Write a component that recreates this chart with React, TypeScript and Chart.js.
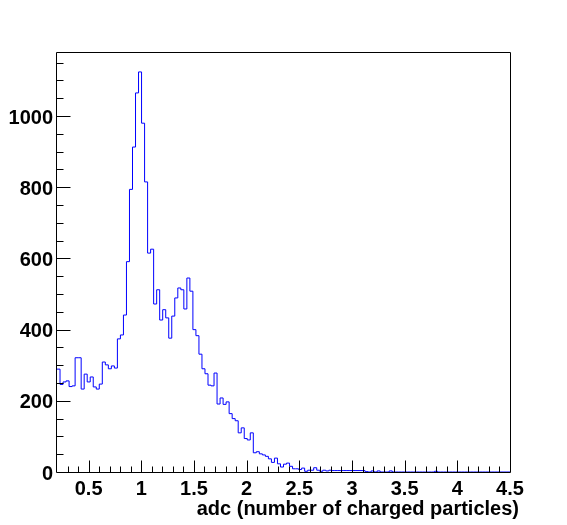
import { useEffect, useRef } from "react";
import { Chart, registerables } from "chart.js";

Chart.register(...registerables);

// ---- data ----
const X_MIN = 0.2;
const X_MAX = 4.5;
const Y_MAX = 1180;

// bin contents (150 uniform bins between X_MIN and X_MAX)
const counts0 = [289, 246, 253, 256, 240, 242, 321, 321, 233, 275, 253, 267, 239, 233, 247, 309, 301, 290, 298, 292];
const counts1 = [374, 385, 441, 591, 794, 913, 1065, 1124, 980, 815, 615, 626, 472, 512, 427, 456, 433, 376, 438, 489];
const counts2 = [517, 512, 458, 545, 508, 400, 383, 331, 290, 276, 244, 242, 278, 191, 208, 190, 197, 164, 150, 144];
const counts3 = [110, 124, 94, 90, 110, 54, 57, 51, 48, 44, 37, 27, 39, 23, 14, 22, 25, 16, 9, 9];
const counts4 = [7, 11, 2, 5, 5, 12, 5, 2, 5, 3, 5, 4, 4, 4, 4, 4, 4, 4, 4, 4];
const counts5 = [4, 4, 1, 0, 3, 0, 3, 0, 0, 0, 3, 0, 0, 0, 0, 0, 0, 0, 0, 0];
const counts6 = [0, 0, 0, 0, 0, 2, 0, 0, 0, 0, 0, 0, 0, 0, 0, 0, 0, 0, 0, 0];
const counts7 = [0, 0, 0, 0, 0, 0, 0, 0, 0, 0];
const counts = [...counts0, ...counts1, ...counts2, ...counts3, ...counts4, ...counts5, ...counts6, ...counts7];

const xTickValues = [0.5, 1, 1.5, 2, 2.5, 3, 3.5, 4, 4.5];
const xTickLabels = ["0.5", "1", "1.5", "2", "2.5", "3", "3.5", "4", "4.5"];
const yTickValues = [0, 200, 400, 600, 800, 1000];
const yTickLabels = ["0", "200", "400", "600", "800", "1000"];
const xMinorStep = 0.1;
const yMinorStep = 50;
const X_TITLE = "adc (number of charged particles)";

const FONT = "'Liberation Sans', Arial, Helvetica, sans-serif";

const rootAxes = {
  id: "rootAxes",
  afterDatasetsDraw(chart: any) {
    const { ctx, chartArea, scales } = chart;
    const { left, right, top, bottom } = chartArea;
    const xs = scales.x;
    const ys = scales.y;
    ctx.save();
    ctx.strokeStyle = "#000";
    ctx.lineWidth = 1;
    const L = Math.round(left) - 0.5;
    const R = Math.round(right) + 0.5;
    const T = Math.round(top) + 0.5;
    const B = Math.round(bottom) + 0.5;
    ctx.beginPath();
    ctx.rect(L, T, R - L, B - T);
    ctx.stroke();
    // x ticks (inward)
    ctx.beginPath();
    const nx = Math.round((X_MAX - X_MIN) / xMinorStep);
    for (let k = 1; k < nx; k++) {
      const v = Math.round((X_MIN + k * xMinorStep) * 10) / 10;
      const major = Math.abs(v * 2 - Math.round(v * 2)) < 1e-6;
      const px = Math.round(xs.getPixelForValue(v)) + 0.5;
      const len = major ? 12 : 6;
      ctx.moveTo(px, B);
      ctx.lineTo(px, B - len);
    }
    // y ticks (inward)
    for (let v = yMinorStep; v < Y_MAX; v += yMinorStep) {
      const major = v % 200 === 0;
      const py = Math.round(ys.getPixelForValue(v)) + 0.5;
      const len = major ? 14 : 7;
      ctx.moveTo(L, py);
      ctx.lineTo(L + len, py);
    }
    ctx.stroke();
    // axis title
    ctx.fillStyle = "#000";
    ctx.font = `bold 20px ${FONT}`;
    ctx.textAlign = "right";
    ctx.textBaseline = "alphabetic";
    ctx.fillText(X_TITLE, right + 9, bottom + 43);
    ctx.restore();
  },
};

export default function App() {
  const ref = useRef<HTMLCanvasElement | null>(null);
  useEffect(() => {
    if (!ref.current) return;
    const w = (X_MAX - X_MIN) / counts.length;
    const pts = counts.map((c, i) => ({ x: X_MIN + i * w, y: c }));
    pts.push({ x: X_MAX, y: counts[counts.length - 1] });
    const chart = new Chart(ref.current, {
      type: "line",
      data: {
        datasets: [
          {
            data: pts,
            stepped: "before",
            borderColor: "#0000ff",
            borderWidth: 1,
            pointRadius: 0,
            fill: false,
          },
        ],
      },
      options: {
        animation: false,
        responsive: false,
        devicePixelRatio: 1,
        layout: { padding: { left: 0, top: 52, right: 57, bottom: 0 } },
        plugins: { legend: { display: false }, tooltip: { enabled: false } },
        scales: {
          x: {
            type: "linear",
            min: X_MIN,
            max: X_MAX,
            grid: { display: false, drawTicks: false },
            border: { display: false },
            afterBuildTicks: (s: any) => {
              s.ticks = xTickValues.map((v) => ({ value: v }));
            },
            afterFit: (s: any) => {
              s.height = 53;
            },
            ticks: {
              autoSkip: false,
              maxRotation: 0,
              padding: 5,
              color: "#000",
              font: { family: FONT, size: 20, weight: "bold" },
              callback: (v: any) => {
                const i = xTickValues.findIndex((t) => Math.abs(t - v) < 1e-9);
                return i >= 0 ? xTickLabels[i] : "";
              },
            },
          },
          y: {
            type: "linear",
            min: 0,
            max: Y_MAX,
            grid: { display: false, drawTicks: false },
            border: { display: false },
            afterBuildTicks: (s: any) => {
              s.ticks = yTickValues.map((v) => ({ value: v }));
            },
            afterFit: (s: any) => {
              s.width = 57;
            },
            ticks: {
              autoSkip: false,
              padding: 4,
              labelOffset: 2,
              color: "#000",
              font: { family: FONT, size: 20, weight: "bold" },
              callback: (v: any) => {
                const i = yTickValues.indexOf(v);
                return i >= 0 ? yTickLabels[i] : "";
              },
            },
          },
        },
      },
      plugins: [rootAxes],
    });
    return () => chart.destroy();
  }, []);
  return (
    <div style={{ position: "absolute", left: 0, top: 0, width: 567, height: 525, background: "#fff" }}>
      <canvas ref={ref} width={567} height={525} style={{ display: "block" }} />
    </div>
  );
}
